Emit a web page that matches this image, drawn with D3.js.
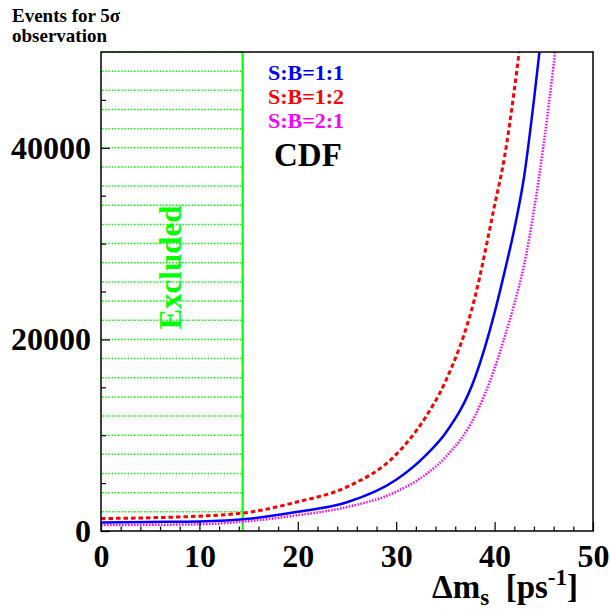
<!DOCTYPE html>
<html>
<head>
<meta charset="utf-8">
<script src="https://cdn.jsdelivr.net/npm/d3@7"></script>
<style>
  body { margin: 0; background: #fff; }
  text { font-family: "Liberation Serif", "DejaVu Serif", serif; font-weight: bold; }
</style>
</head>
<body>
<div id="chart"></div>
<script>
const dmValues = [0, 5, 10, 15, 20, 25, 30, 33, 35, 38, 40, 41, 42, 43, 44, 45, 46, 47];
// events needed for a 5 sigma observation
const sb11 = [900, 950, 1000, 1270, 2000, 3000, 5350, 7900, 10200, 16000, 22800, 27000, 31500, 37000, 45000, 54000, 64000, 76000];
const sb12 = [1300, 1380, 1550, 1950, 3050, 4600, 8000, 11900, 15600, 24400, 34000, 39000, 46000, 54500, 64000, 76000, 90000, 105000];
const sb21 = [620, 650, 700, 1030, 1650, 2500, 4100, 5900, 7700, 12000, 17000, 20200, 23700, 27800, 33500, 40500, 48700, 58000];

const seriesNames = ['S:B=1:1', 'S:B=1:2', 'S:B=2:1'];
const seriesColors = ['#0000ff', '#ff0000', '#ff00ff'];
const seriesDash = [null, '4.5,3', '1.5,1.5'];

const excludedLimit = 14.4;
const xTicks = [0, 10, 20, 30, 40, 50];
const yTicks = [0, 20000, 40000];

const config = {
    containerWidth: 610,
    containerHeight: 609,
    margin: { top: 52, right: 16, bottom: 78, left: 101 }
};

const width = 593 - config.margin.left;
const height = 531 - config.margin.top;

const svg = d3.select('#chart').append('svg')
    .attr('width', config.containerWidth)
    .attr('height', config.containerHeight);

const chart = svg.append('g')
    .attr('transform', `translate(${config.margin.left},${config.margin.top})`);

// Scales
const xScale = d3.scaleLinear().domain([0, 50]).range([0, width]);
const yScale = d3.scaleLinear().domain([0, 50000]).range([height, 0]);

chart.append('clipPath').attr('id', 'plot-clip')
  .append('rect')
    .attr('width', width)
    .attr('height', height);

// Excluded region: horizontal dotted hatch + limit line
const hatchLevels = d3.range(2000, 50001, 2000);
chart.append('g').attr('class', 'hatch')
  .selectAll('line')
  .data(hatchLevels)
  .join('line')
    .attr('x1', xScale(0) + 1)
    .attr('x2', xScale(excludedLimit))
    .attr('y1', d => yScale(d))
    .attr('y2', d => yScale(d))
    .attr('stroke', '#00ff00')
    .attr('stroke-width', 1.5)
    .attr('stroke-dasharray', '1.5,1.7');

chart.append('line')
    .attr('x1', xScale(excludedLimit))
    .attr('x2', xScale(excludedLimit))
    .attr('y1', yScale(0))
    .attr('y2', yScale(50000))
    .attr('stroke', '#00ff00')
    .attr('stroke-width', 2.2);

chart.append('text')
    .attr('transform', `translate(${xScale(excludedLimit / 2) + 9},${yScale(27500)}) rotate(-90)`)
    .attr('text-anchor', 'middle')
    .attr('fill', '#00ff00')
    .style('font-size', '31px')
    .text('Excluded');

// Curves
const line = d3.line()
    .x(d => xScale(d[0]))
    .y(d => yScale(d[1]))
    .curve(d3.curveMonotoneX);

const curveData = [sb11, sb12, sb21].map(vals => vals.map((v, i) => [dmValues[i], v]));

chart.append('g').attr('clip-path', 'url(#plot-clip)')
  .selectAll('.chart-line')
  .data(curveData)
  .join('path')
    .attr('class', 'chart-line')
    .attr('fill', 'none')
    .attr('stroke', (d, i) => seriesColors[i])
    .attr('stroke-width', (d, i) => i === 1 ? 3 : 2.5)
    .attr('stroke-dasharray', (d, i) => seriesDash[i])
    .attr('d', line);

// Axes, ticks pointing into the frame
const xAxis = d3.axisBottom(xScale).tickValues(xTicks).tickSize(-9).tickPadding(13).tickFormat(d3.format('d'));
const xMinorAxis = d3.axisBottom(xScale).tickValues(d3.range(0, 51, 2).filter(d => d % 10)).tickSize(-4.5).tickFormat('');
const yAxis = d3.axisLeft(yScale).tickValues(yTicks).tickSize(-9).tickPadding(10).tickFormat(d3.format('d'));
const yMinorAxis = d3.axisLeft(yScale).tickValues([5000, 10000, 15000, 25000, 30000, 35000, 45000]).tickSize(-5).tickFormat('');

const styleAxis = g => {
    g.select('.domain').remove();
    g.selectAll('.tick line').attr('stroke', '#000').attr('stroke-width', 1.2);
    g.selectAll('.tick text').attr('fill', '#000').style('font-size', '32px')
        .style('font-family', '"Liberation Serif", serif').style('font-weight', 'bold');
};

chart.append('g').attr('transform', `translate(0,${height})`).call(xAxis).call(styleAxis);
chart.append('g').attr('transform', `translate(0,${height})`).call(xMinorAxis).call(styleAxis);
chart.append('g').call(yAxis).call(styleAxis);
chart.append('g').call(yMinorAxis).call(styleAxis);

// Frame
chart.append('rect')
    .attr('width', width)
    .attr('height', height)
    .attr('fill', 'none')
    .attr('stroke', '#000')
    .attr('stroke-width', 1.5);

// Legend
seriesNames.forEach((name, i) => {
    svg.append('text')
        .attr('x', 268)
        .attr('y', 80 + i * 24)
        .attr('fill', seriesColors[i])
        .style('font-size', '22px')
        .text(name);
});

svg.append('text')
    .attr('x', 274)
    .attr('y', 166)
    .attr('fill', '#000')
    .style('font-size', '33px')
    .text('CDF');

// Axis titles, two separate lines
svg.append('text').attr('x', 12).attr('y', 22).attr('fill', '#000')
    .style('font-size', '19px').text('Events for 5σ');
svg.append('text').attr('x', 12).attr('y', 42).attr('fill', '#000')
    .style('font-size', '19px').text('observation');

const xTitle = svg.append('text')
    .attr('x', 578)
    .attr('y', 598)
    .attr('text-anchor', 'end')
    .attr('fill', '#000')
    .style('font-size', '33px');
xTitle.append('tspan').text('Δm');
xTitle.append('tspan').attr('dy', 7).style('font-size', '23px').text('s');
xTitle.append('tspan').attr('dy', -7).text('\u00a0\u00a0[ps');
xTitle.append('tspan').attr('dy', -13).style('font-size', '23px').text('-1');
xTitle.append('tspan').attr('dy', 13).text(']');
</script>
</body>
</html>
